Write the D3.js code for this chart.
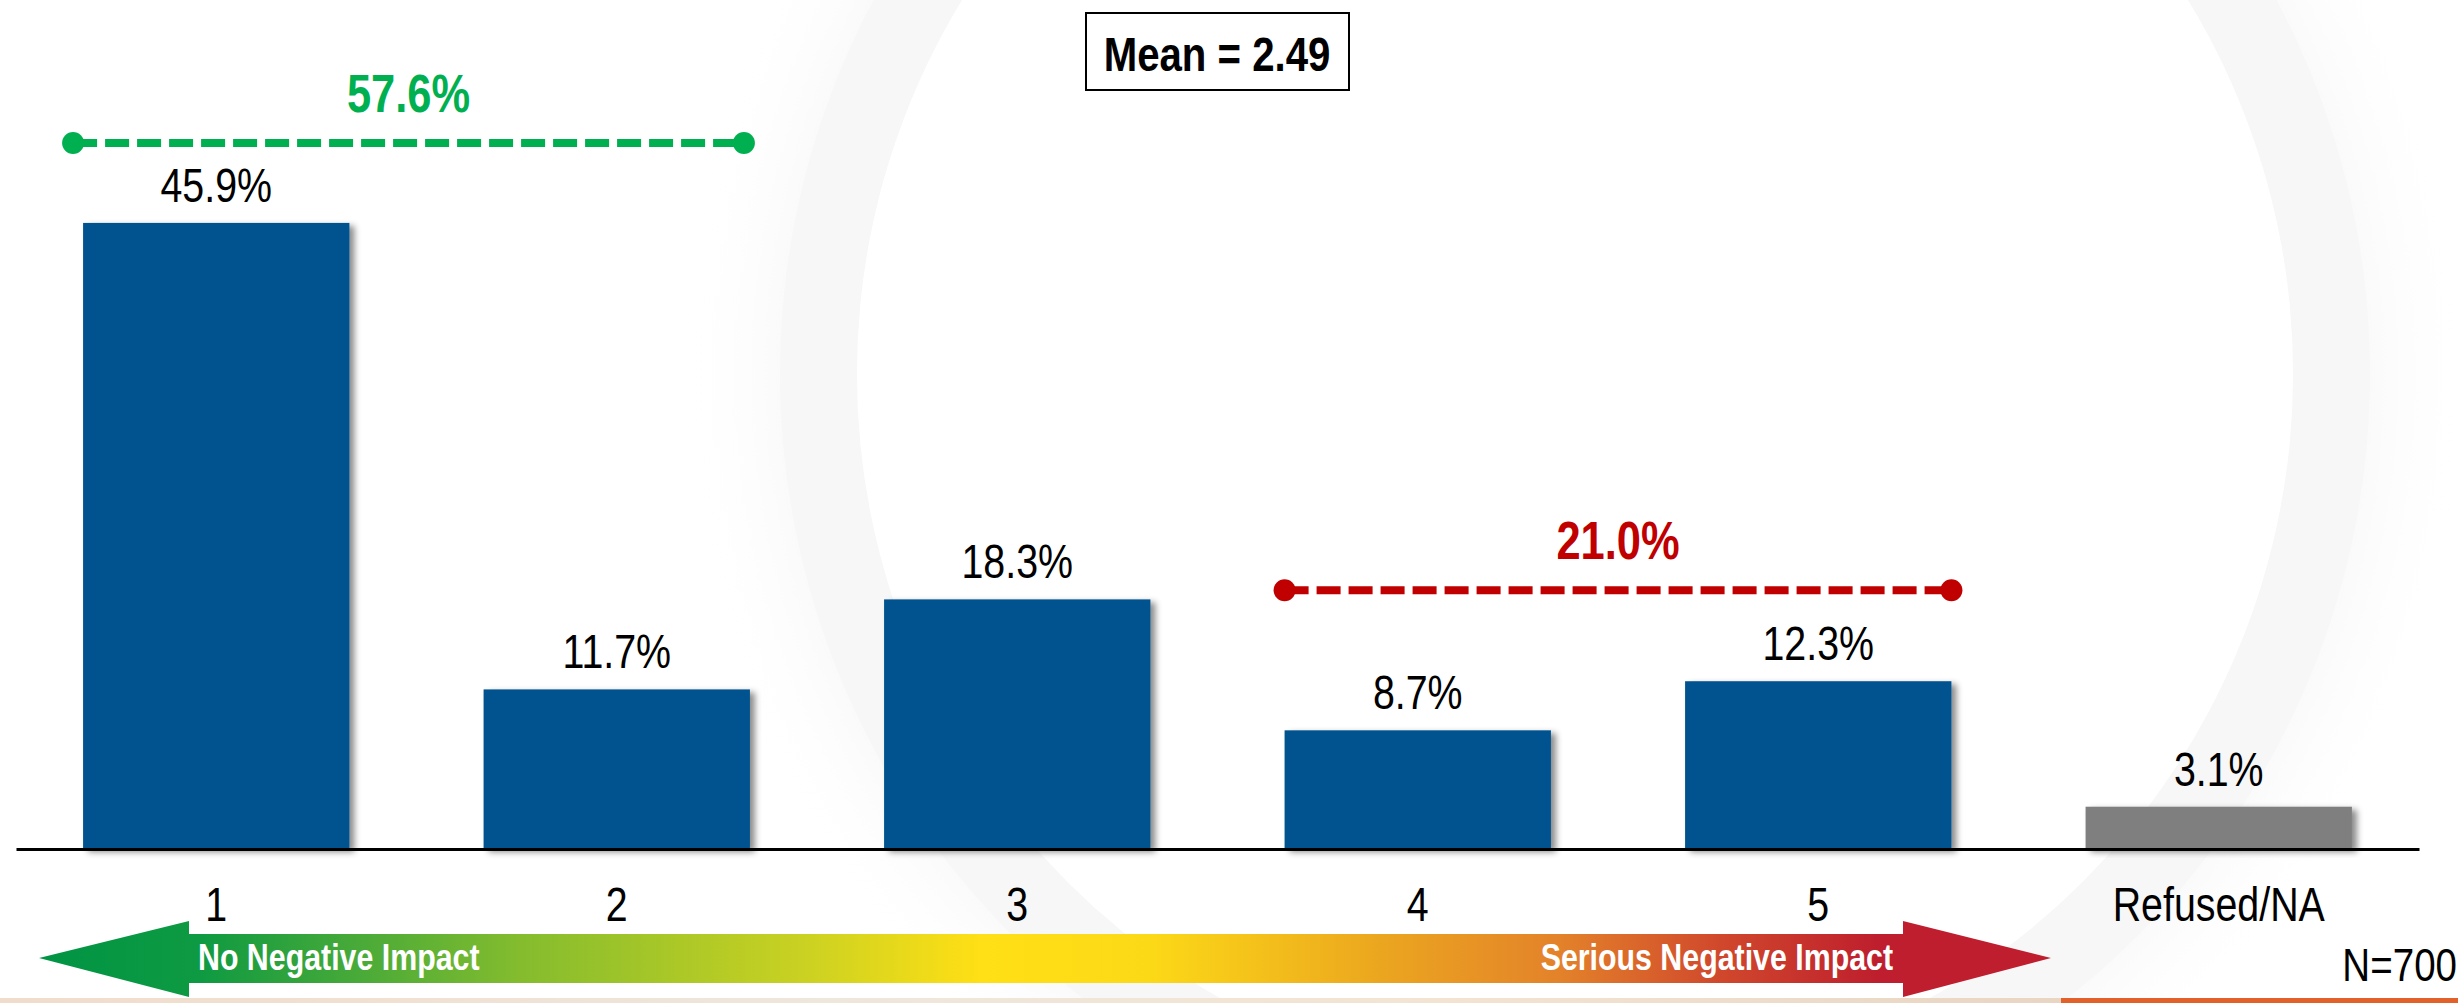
<!DOCTYPE html>
<html>
<head>
<meta charset="utf-8">
<script src="https://cdn.jsdelivr.net/npm/d3@7"></script>
<style>
  html, body { margin: 0; padding: 0; background: #ffffff; overflow: hidden; }
  svg { display: block; }
</style>
</head>
<body>
<svg id="chart" width="2458" height="1003"></svg>
<script>
// Survey responses: impact rating 1 (none) to 5 (serious), plus refusals
const categories = ["1", "2", "3", "4", "5", "Refused/NA"];
const values = [45.9, 11.7, 18.3, 8.7, 12.3, 3.1];
const barFill = ["#04528F", "#04528F", "#04528F", "#04528F", "#04528F", "#7F7F7F"];

// Top-two and bottom-two box groupings
const groupNames = ["noImpact", "serious"];
const groupMembers = [["1", "2"], ["4", "5"]];
const groupColors = ["#00B050", "#C00000"];

const meanText = "Mean = 2.49";
const sampleText = "N=700";
const scaleEnds = ["No Negative Impact", "Serious Negative Impact"];

const W = 2458, H = 1003;
const baseY = 849;
const svg = d3.select("#chart");
const defs = svg.append("defs");

// Pick a condensed face if one is available, otherwise squeeze the regular face
const probe = document.createElement("canvas").getContext("2d");
probe.font = '48px "Liberation Sans Narrow", monospace';
const wNarrow = probe.measureText("Refused/NA 45.9%").width;
probe.font = '48px monospace';
const wMono = probe.measureText("Refused/NA 45.9%").width;
const hasNarrow = Math.abs(wNarrow - wMono) > 1;
const FONT = hasNarrow ? '"Liberation Sans Narrow", "Arial Narrow", sans-serif' : '"Liberation Sans", Arial, sans-serif';
const squeeze = hasNarrow ? 1 : 0.82;

function label(g, x, y, text, opts) {
  const o = Object.assign({ size: 48, weight: "normal", fill: "#000", anchor: "middle" }, opts || {});
  return g.append("text")
    .attr("transform", `translate(${x},${y}) scale(${squeeze},1)`)
    .attr("text-anchor", o.anchor)
    .attr("font-family", FONT)
    .attr("font-size", o.size)
    .attr("font-weight", o.weight)
    .attr("fill", o.fill)
    .text(text);
}

// ---------- background ring ----------
const ringG = defs.append("radialGradient").attr("id", "ringGrad")
  .attr("gradientUnits", "userSpaceOnUse").attr("cx", 1575).attr("cy", 374).attr("r", 800);
ringG.append("stop").attr("offset", 0.895).attr("stop-color", "#f6f6f6");
ringG.append("stop").attr("offset", 0.94).attr("stop-color", "#fbfbfb");
ringG.append("stop").attr("offset", 1).attr("stop-color", "#f7f7f7");
const haloG = defs.append("radialGradient").attr("id", "haloGrad")
  .attr("gradientUnits", "userSpaceOnUse").attr("cx", 1575).attr("cy", 374).attr("r", 900);
haloG.append("stop").attr("offset", 0.88).attr("stop-color", "#fafafa");
haloG.append("stop").attr("offset", 1).attr("stop-color", "#ffffff").attr("stop-opacity", 0);

svg.append("rect").attr("width", W).attr("height", H).attr("fill", "#ffffff");
svg.append("circle").attr("cx", 1575).attr("cy", 374).attr("r", 900).attr("fill", "url(#haloGrad)");
const ringArc = d3.arc().innerRadius(718).outerRadius(795).startAngle(0).endAngle(2 * Math.PI);
svg.append("path").attr("transform", "translate(1575,374)").attr("d", ringArc()).attr("fill", "url(#ringGrad)");
svg.append("circle").attr("cx", 1575).attr("cy", 374).attr("r", 718).attr("fill", "#ffffff");

// ---------- scales ----------
const x = d3.scaleBand().domain(categories).range([16, 2419]).paddingInner(0.335).paddingOuter(0.1675);
const y = d3.scaleLinear().domain([0, 50]).range([baseY, baseY - 50 * 13.64]);
const bw = x.bandwidth();

// soft drop shadow under the bars
const sh = defs.append("filter").attr("id", "barShadow")
  .attr("x", "-10%").attr("y", "-10%").attr("width", "130%").attr("height", "130%");
sh.append("feDropShadow").attr("dx", 5).attr("dy", 3).attr("stdDeviation", 3)
  .attr("flood-color", "#000").attr("flood-opacity", 0.45);

const bars = svg.append("g");
bars.selectAll("rect").data(categories).join("rect")
  .attr("x", d => x(d))
  .attr("y", (d, i) => y(values[i]))
  .attr("width", bw)
  .attr("height", (d, i) => baseY - y(values[i]))
  .attr("fill", (d, i) => barFill[i])
  .attr("filter", "url(#barShadow)");

// value labels
const valG = svg.append("g");
categories.forEach((c, i) => {
  label(valG, x(c) + bw / 2, y(values[i]) - 21, values[i].toFixed(1) + "%");
});

// baseline axis
const axis = d3.axisBottom(x).tickSize(0).tickPadding(0);
const axG = svg.append("g").attr("transform", `translate(0,${baseY})`).call(axis);
axG.select(".domain").attr("stroke", "#000").attr("stroke-width", 3);
axG.selectAll(".tick text").remove();
const tickG = svg.append("g");
categories.forEach(c => label(tickG, x(c) + bw / 2, 921, c));

// ---------- grouped totals with dashed brackets ----------
const lift = [80, 91];
const startNudge = [-10, 0];
const endNudge = [-6, 0];
groupNames.forEach((name, gi) => {
  const mem = groupMembers[gi];
  const idx = mem.map(m => categories.indexOf(m));
  const total = d3.sum(idx, k => values[k]);
  const topY = d3.min(idx, k => y(values[k]));
  const lineY = topY - lift[gi];
  const x1 = x(mem[0]) + startNudge[gi];
  const x2 = x(mem[mem.length - 1]) + bw + endNudge[gi];
  const g = svg.append("g").attr("class", "group-" + name);
  g.append("line").attr("x1", x1).attr("x2", x2).attr("y1", lineY).attr("y2", lineY)
    .attr("stroke", groupColors[gi]).attr("stroke-width", 8).attr("stroke-dasharray", "24 8");
  g.selectAll("circle").data([x1, x2]).join("circle")
    .attr("cx", d => d).attr("cy", lineY).attr("r", 11).attr("fill", groupColors[gi]);
  label(g, (x1 + x2) / 2, lineY - 31, total.toFixed(1) + "%", { size: 53, weight: "bold", fill: groupColors[gi] });
});

// ---------- mean box ----------
const meanG = svg.append("g");
meanG.append("rect").attr("x", 1086).attr("y", 13).attr("width", 263).attr("height", 77)
  .attr("fill", "#fff").attr("stroke", "#000").attr("stroke-width", 2);
label(meanG, 1217, 71, meanText, { size: 49, weight: "bold" });

// ---------- sample size ----------
label(svg.append("g"), 2457, 981, sampleText, { size: 47, anchor: "end" });

// ---------- scale arrow ----------
const ag = defs.append("linearGradient").attr("id", "arrowGrad")
  .attr("gradientUnits", "userSpaceOnUse").attr("x1", 39).attr("x2", 2051).attr("y1", 0).attr("y2", 0);
[[39, "#009444"], [200, "#0E9A42"], [330, "#3EA73A"], [520, "#84BC2E"], [800, "#C9D122"],
 [980, "#FFDF15"], [1150, "#FCD917"], [1380, "#EBA61F"], [1560, "#E3822A"], [1720, "#D0482C"],
 [1880, "#BE1E2D"], [2051, "#BE1E2D"]].forEach(([px, col]) => {
  ag.append("stop").attr("offset", (px - 39) / (2051 - 39)).attr("stop-color", col);
});
const arrowPts = [[39, 958], [189, 921], [189, 934], [1903, 934], [1903, 921], [2051, 958],
  [1903, 997], [1903, 983], [189, 983], [189, 997]];
svg.append("path").attr("d", d3.line()(arrowPts) + "Z").attr("fill", "url(#arrowGrad)");
const endG = svg.append("g");
label(endG, 198, 970, scaleEnds[0], { size: 37, weight: "bold", fill: "#fff", anchor: "start" });
label(endG, 1893, 970, scaleEnds[1], { size: 37, weight: "bold", fill: "#fff", anchor: "end" });

// ---------- footer strip ----------
const fg = defs.append("linearGradient").attr("id", "footGrad").attr("x1", 0).attr("x2", 1);
fg.append("stop").attr("offset", 0).attr("stop-color", "#f1dccb");
fg.append("stop").attr("offset", 0.4).attr("stop-color", "#efe6dc");
fg.append("stop").attr("offset", 0.7).attr("stop-color", "#f3e4d2");
fg.append("stop").attr("offset", 1).attr("stop-color", "#e8d5c2");
svg.append("rect").attr("x", 0).attr("y", 998).attr("width", 2061).attr("height", 5).attr("fill", "url(#footGrad)");
svg.append("rect").attr("x", 2061).attr("y", 998).attr("width", W - 2061).attr("height", 5).attr("fill", "#E2612B");
</script>
</body>
</html>
